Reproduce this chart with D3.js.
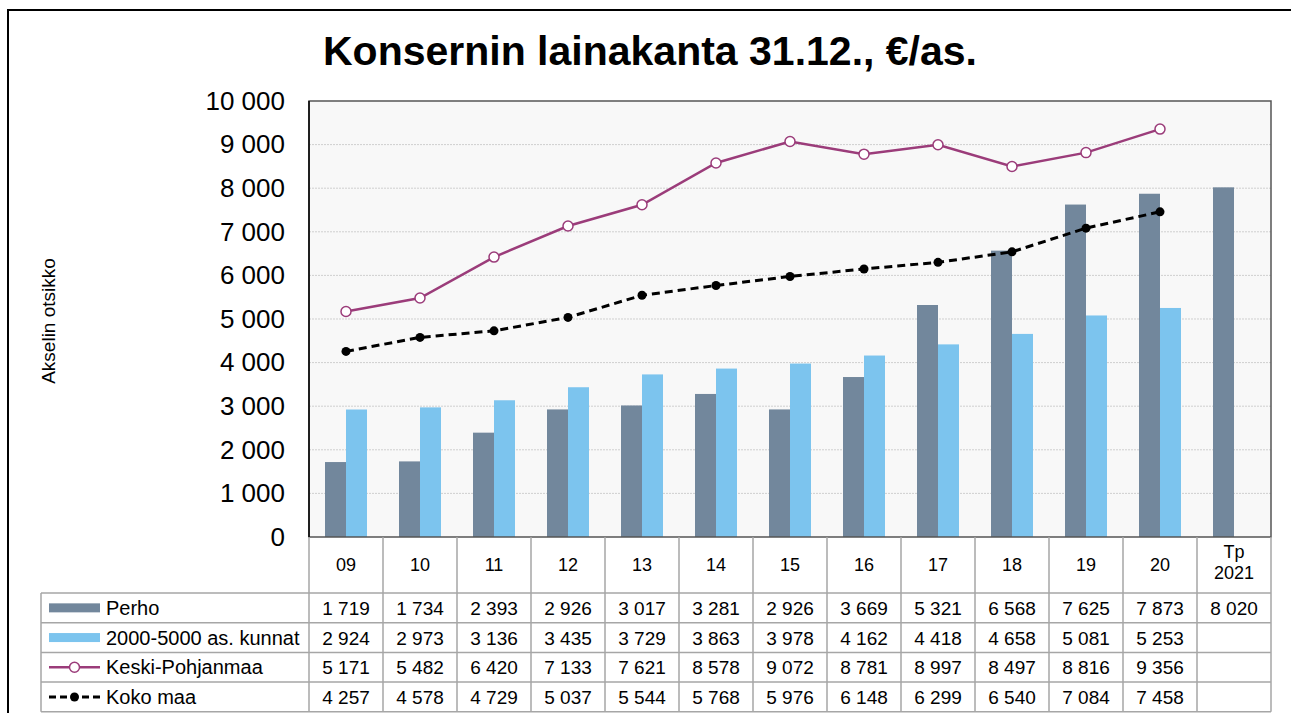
<!DOCTYPE html>
<html>
<head>
<meta charset="utf-8">
<script src="https://cdn.jsdelivr.net/npm/d3@7"></script>
<style>
  body { margin: 0; background: #fff; }
  svg { display: block; font-family: "Liberation Sans", Arial, sans-serif; }
</style>
</head>
<body>
<div id="chart"></div>
<script>
// Konsernin lainakanta, €/asukas
const categories = ['09', '10', '11', '12', '13', '14', '15', '16', '17', '18', '19', '20', 'Tp\n2021'];
const perho = [1719, 1734, 2393, 2926, 3017, 3281, 2926, 3669, 5321, 6568, 7625, 7873, 8020];
const kunnat = [2924, 2973, 3136, 3435, 3729, 3863, 3978, 4162, 4418, 4658, 5081, 5253, null];
const keskiPohjanmaa = [5171, 5482, 6420, 7133, 7621, 8578, 9072, 8781, 8997, 8497, 8816, 9356, null];
const kokoMaa = [4257, 4578, 4729, 5037, 5544, 5768, 5976, 6148, 6299, 6540, 7084, 7458, null];
const yTicks = [0, 1000, 2000, 3000, 4000, 5000, 6000, 7000, 8000, 9000, 10000];

const series = [
  { name: 'Perho', values: perho, type: 'bar', color: '#72879c' },
  { name: '2000-5000 as. kunnat', values: kunnat, type: 'bar', color: '#7cc4ee' },
  { name: 'Keski-Pohjanmaa', values: keskiPohjanmaa, type: 'line', color: '#9b3c7a' },
  { name: 'Koko maa', values: kokoMaa, type: 'dash', color: '#000' }
];

const W = 1291, H = 713;
const plot = { left: 309, right: 1271, top: 101, bottom: 537 };
const headerBottom = 593;
const rowH = 29.7;
const tableLeft = 41;

const fmt = v => v == null ? '' : d3.format(',')(v).replace(/,/g, ' ');

const svg = d3.select('#chart').append('svg')
  .attr('width', W).attr('height', H);

// outer frame
svg.append('rect')
  .attr('x', 8).attr('y', 10)
  .attr('width', W + 10).attr('height', H + 10)
  .attr('fill', '#fff').attr('stroke', '#000').attr('stroke-width', 2);

// title
svg.append('text')
  .attr('x', 650).attr('y', 65)
  .attr('text-anchor', 'middle')
  .style('font-size', '41px').style('font-weight', 'bold')
  .text('Konsernin lainakanta 31.12., €/as.');

// scales
const x = d3.scaleBand().domain(categories).range([plot.left, plot.right]);
const xBar = d3.scaleBand().domain(['Perho', '2000-5000 as. kunnat'])
  .range([16, x.bandwidth() - 16]);
const y = d3.scaleLinear().domain([0, 10000]).range([plot.bottom, plot.top]);

// plot background
svg.append('rect')
  .attr('x', plot.left).attr('y', plot.top)
  .attr('width', plot.right - plot.left).attr('height', plot.bottom - plot.top)
  .attr('fill', '#f8f8f8');

// gridlines
svg.append('g')
  .selectAll('line')
  .data(yTicks.filter(t => t > 0 && t < 10000))
  .enter().append('line')
  .attr('x1', plot.left).attr('x2', plot.right)
  .attr('y1', d => y(d)).attr('y2', d => y(d))
  .attr('stroke', '#cfcfcf').attr('stroke-dasharray', '2,1');

// y axis labels
const yAxis = svg.append('g')
  .attr('transform', `translate(${plot.left},0)`)
  .call(d3.axisLeft(y).tickValues(yTicks).tickFormat(fmt).tickSize(0).tickPadding(24));
yAxis.select('.domain').remove();
yAxis.selectAll('text')
  .style('font-size', '26px')
  .style('font-family', '"Liberation Sans", Arial, sans-serif')
  .attr('fill', '#000');

svg.append('text')
  .attr('transform', 'rotate(-90)')
  .attr('x', -321).attr('y', 55)
  .attr('text-anchor', 'middle')
  .style('font-size', '19px')
  .text('Akselin otsikko');

// bars
series.filter(s => s.type === 'bar').forEach(s => {
  svg.append('g')
    .selectAll('rect')
    .data(categories.map((c, i) => ({ c, v: s.values[i] })).filter(d => d.v != null))
    .enter().append('rect')
    .attr('x', d => x(d.c) + xBar(s.name))
    .attr('width', xBar.bandwidth())
    .attr('y', d => y(d.v))
    .attr('height', d => y(0) - y(d.v))
    .attr('fill', s.color);
});

// lines
const lineGen = d3.line()
  .defined(d => d.v != null)
  .x(d => x(d.c) + x.bandwidth() / 2)
  .y(d => y(d.v));

series.filter(s => s.type !== 'bar').forEach(s => {
  const pts = categories.map((c, i) => ({ c, v: s.values[i] })).filter(d => d.v != null);
  const g = svg.append('g');
  g.append('path')
    .datum(pts)
    .attr('d', lineGen)
    .attr('fill', 'none')
    .attr('stroke', s.color)
    .attr('stroke-width', s.type === 'dash' ? 3 : 2.5)
    .attr('stroke-dasharray', s.type === 'dash' ? '8,5' : null);
  g.selectAll('circle')
    .data(pts)
    .enter().append('circle')
    .attr('cx', d => x(d.c) + x.bandwidth() / 2)
    .attr('cy', d => y(d.v))
    .attr('r', s.type === 'dash' ? 4.5 : 5)
    .attr('fill', s.type === 'dash' ? '#000' : '#fff')
    .attr('stroke', s.color)
    .attr('stroke-width', s.type === 'dash' ? 0 : 1.5);
});

// plot border
svg.append('rect')
  .attr('x', plot.left).attr('y', plot.top)
  .attr('width', plot.right - plot.left).attr('height', plot.bottom - plot.top)
  .attr('fill', 'none').attr('stroke', '#555').attr('stroke-width', 1.5);
svg.append('line')
  .attr('x1', plot.left).attr('x2', plot.left)
  .attr('y1', plot.top).attr('y2', plot.bottom)
  .attr('stroke', '#000').attr('stroke-width', 1.5);

// data table
const table = svg.append('g');
const gridColor = '#a6a6a6';
const tableBottom = headerBottom + rowH * series.length;

// header cells (category labels)
categories.forEach(c => {
  const lines = c.split('\n');
  const t = table.append('text')
    .attr('x', x(c) + x.bandwidth() / 2)
    .attr('text-anchor', 'middle')
    .style('font-size', '18px');
  lines.forEach((l, i) => {
    t.append('tspan')
      .attr('x', x(c) + x.bandwidth() / 2)
      .attr('y', lines.length > 1 ? 558 + i * 21 : 571)
      .text(l);
  });
});

// vertical grid lines
x.domain().concat(['end']).forEach(c => {
  const xx = c === 'end' ? plot.right : x(c);
  table.append('line')
    .attr('x1', xx).attr('x2', xx)
    .attr('y1', plot.bottom).attr('y2', tableBottom)
    .attr('stroke', gridColor).attr('stroke-width', 1.5);
});
table.append('line')
  .attr('x1', tableLeft).attr('x2', tableLeft)
  .attr('y1', headerBottom).attr('y2', tableBottom)
  .attr('stroke', gridColor).attr('stroke-width', 1.5);

// horizontal grid lines
d3.range(series.length + 1).forEach(i => {
  const yy = headerBottom + i * rowH;
  table.append('line')
    .attr('x1', tableLeft).attr('x2', plot.right)
    .attr('y1', yy).attr('y2', yy)
    .attr('stroke', gridColor).attr('stroke-width', 1.5);
});

// rows
series.forEach((s, r) => {
  const cy = headerBottom + r * rowH + rowH / 2;
  // legend key
  const kx0 = 49, kx1 = 100;
  if (s.type === 'bar') {
    table.append('rect')
      .attr('x', kx0).attr('y', cy - 4.5)
      .attr('width', kx1 - kx0).attr('height', 9)
      .attr('fill', s.color);
  } else {
    table.append('line')
      .attr('x1', kx0).attr('x2', kx1)
      .attr('y1', cy).attr('y2', cy)
      .attr('stroke', s.color)
      .attr('stroke-width', s.type === 'dash' ? 3 : 2.5)
      .attr('stroke-dasharray', s.type === 'dash' ? '7,4' : null);
    table.append('circle')
      .attr('cx', (kx0 + kx1) / 2).attr('cy', cy)
      .attr('r', s.type === 'dash' ? 4.5 : 5)
      .attr('fill', s.type === 'dash' ? '#000' : '#fff')
      .attr('stroke', s.color)
      .attr('stroke-width', s.type === 'dash' ? 0 : 1.5);
  }
  table.append('text')
    .attr('x', 106).attr('y', cy + 7)
    .style('font-size', '20px')
    .text(s.name);
  s.values.forEach((v, i) => {
    table.append('text')
      .attr('x', x(categories[i]) + x.bandwidth() / 2)
      .attr('y', cy + 7)
      .attr('text-anchor', 'middle')
      .style('font-size', '19px')
      .text(fmt(v));
  });
});
</script>
</body>
</html>
